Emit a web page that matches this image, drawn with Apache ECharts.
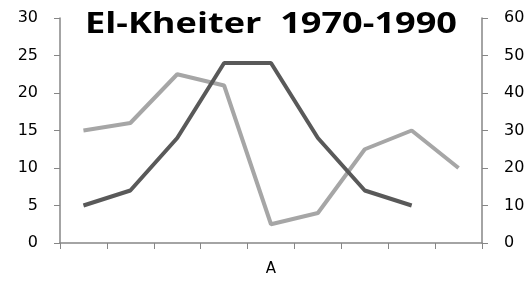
<!DOCTYPE html>
<html>
<head>
<meta charset="utf-8">
<script src="https://cdn.jsdelivr.net/npm/echarts@6/dist/echarts.min.js"></script>
<style>
  html, body { margin: 0; padding: 0; background: #fff; }
  #chart { width: 532px; height: 287px; }
</style>
</head>
<body>
<div id="chart"></div>
<script>
// categories along x (only the middle one carries a label)
const categories = ['', '', '', '', 'A', '', '', '', ''];
// left axis series (dark)
const darkValues = [5, 7, 14, 24, 24, 14, 7, 5, null];
// right axis series (light)
const lightValues = [30, 32, 45, 42, 5, 8, 25, 30, 20];

const leftTicks = [0, 5, 10, 15, 20, 25, 30];
const rightTicks = [0, 10, 20, 30, 40, 50, 60];

const titleText = 'El-Kheiter  1970-1990';
const titleFont = 'bold 28px "Open Sans"';

const axisGray = '#868686';
const labelFont = { color: '#000', fontSize: 16, fontFamily: 'DejaVu Sans' };

// the title in the picture is wide, stretch it a bit
const ctx = document.createElement('canvas').getContext('2d');
ctx.font = titleFont;
const titleScale = 372 / ctx.measureText(titleText).width;

const chart = echarts.init(document.getElementById('chart'));
chart.setOption({
  animation: false,
  backgroundColor: '#fff',
  graphic: [{
    type: 'text',
    x: 271,
    y: 25,
    scaleX: titleScale,
    z: 10,
    style: {
      text: titleText,
      font: titleFont,
      fill: '#000',
      align: 'center',
      verticalAlign: 'middle'
    }
  }],
  grid: { left: 60, right: 50, top: 18, bottom: 44 },
  xAxis: {
    type: 'category',
    data: categories,
    boundaryGap: true,
    axisLine: { lineStyle: { color: axisGray, width: 1.5 } },
    axisTick: { show: true, length: 6, interval: 0, lineStyle: { color: axisGray } },
    axisLabel: Object.assign({ margin: 19, interval: 0 }, labelFont, { fontSize: 15 })
  },
  yAxis: [{
    type: 'value',
    min: leftTicks[0],
    max: leftTicks[leftTicks.length - 1],
    interval: 5,
    splitLine: { show: false },
    axisLine: { show: true, lineStyle: { color: axisGray, width: 1.5 } },
    axisTick: { show: true, length: 6, lineStyle: { color: axisGray } },
    axisLabel: Object.assign({ margin: 22 }, labelFont)
  }, {
    type: 'value',
    min: rightTicks[0],
    max: rightTicks[rightTicks.length - 1],
    interval: 10,
    splitLine: { show: false },
    axisLine: { show: true, lineStyle: { color: axisGray, width: 1.5 } },
    axisTick: { show: true, length: 6, lineStyle: { color: axisGray } },
    axisLabel: Object.assign({ margin: 22 }, labelFont)
  }],
  series: [{
    type: 'line',
    yAxisIndex: 0,
    data: darkValues,
    showSymbol: false,
    lineStyle: { color: '#595959', width: 4 },
    z: 3
  }, {
    type: 'line',
    yAxisIndex: 1,
    data: lightValues,
    showSymbol: false,
    lineStyle: { color: '#a6a6a6', width: 4 },
    z: 2
  }]
});
</script>
</body>
</html>
